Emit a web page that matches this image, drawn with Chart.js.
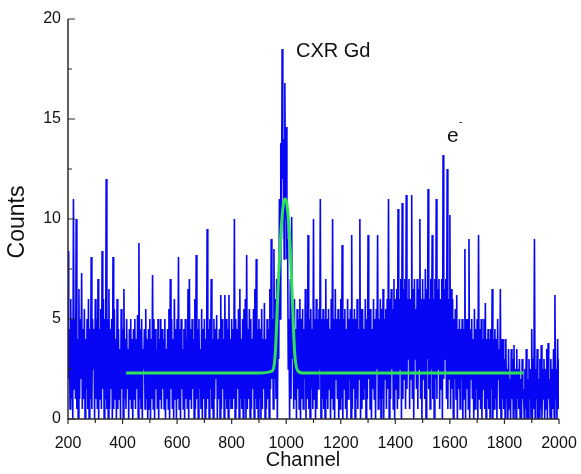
<!DOCTYPE html>
<html lang="en">
<head>
    <meta charset="UTF-8">
    <title>CXR Gd spectrum</title>
    <script src="https://cdn.jsdelivr.net/npm/chart.js"></script>
    <style>
        * {
            box-sizing: border-box;
            margin: 0;
            padding: 0;
        }
        body {
            background: #ffffff;
            width: 581px;
            height: 474px;
            overflow: hidden;
        }
    </style>
</head>
<body>
    <canvas id="spectrum" width="581" height="474"></canvas>

    <script>
        // channel axis: first channel and width of each bin below
        const CH_START = 200;
        const CH_STEP = 5;

        // top of the blue trace in each 5-channel bin, rows of 50 channels
        const binMax = [
            8.4, 4.5, 6, 5, 11, 5, 10, 4, 6.5, 5,            // 200
            7.3, 4.5, 5.5, 4, 5, 6, 4.5, 8.1, 5, 4.5,        // 250
            6, 5, 7, 4.5, 5.5, 8.4, 6, 5, 12, 5,             // 300
            6.5, 4.5, 5, 8.1, 5.5, 4, 6, 4.5, 3.5, 5.5,      // 350
            4.5, 6.5, 4, 5, 3.5, 4.5, 5, 4, 4.5, 5,          // 400
            4, 5.2, 8.8, 4.5, 5, 3.5, 4.5, 5.5, 4, 4.5,      // 450
            5, 4, 7.2, 5, 4.5, 3.5, 5, 4, 5, 4.5,            // 500
            4, 5, 3.5, 4.5, 5.5, 7, 5, 4, 6, 4.5,            // 550
            5, 8.1, 4.5, 5, 3.5, 4.5, 5, 4, 6.5, 7,          // 600
            4.5, 5, 4, 6, 8.2, 4.5, 5, 3.5, 5.5, 4.5,        // 650
            5, 4, 9.5, 4.5, 5, 7, 4, 5, 4.5, 5.2,            // 700
            4, 4.5, 6.2, 5, 4, 6.2, 5, 4.5, 6.2, 4,          // 750
            5, 4.5, 10, 5, 4.5, 5.5, 6.5, 4, 5, 5.5,         // 800
            6, 8.2, 4.5, 5.5, 5, 4, 5.5, 6.5, 8, 4.5,        // 850
            5, 4.5, 5.5, 4, 5.8, 4, 5, 4.5, 6.5, 9,          // 900
            5, 8.5, 6, 7, 4.5, 11, 13.8, 18.5, 14, 16.8,     // 950
            14.6, 9, 5, 7, 10.1, 5.5, 6, 4.5, 5.5, 5,        // 1000
            6, 5, 5.5, 4.5, 6.5, 5, 9.2, 5, 5.5, 4.5,        // 1050
            10, 5, 6, 5, 5.5, 11, 5, 5.5, 5, 7,              // 1100
            5, 5.5, 4.5, 6, 10, 5, 6.5, 5, 5.5, 5,           // 1150
            6, 8.7, 5, 5.5, 4.5, 6, 5, 5.5, 9.2, 5,          // 1200
            5.5, 5, 6, 4.5, 10, 5.5, 5.5, 4.5, 6, 5,         // 1250
            9.2, 5.5, 5.5, 4.5, 6, 5, 5.5, 9.2, 5, 6,        // 1300
            5.5, 6.5, 5, 5.5, 6, 11, 6, 6.5, 5.5, 7,         // 1350
            6, 6.5, 10.5, 6, 7, 10.8, 6.5, 7, 11.2, 6,       // 1400
            7, 6, 11.2, 6.5, 7, 5.5, 7, 6.5, 10, 6,          // 1450
            7, 6, 7.5, 6.5, 11.5, 6, 7, 9.2, 6, 7,           // 1500
            11, 6.5, 7, 6, 7, 13.2, 6.5, 7, 12.5, 6,         // 1550
            10.2, 6.5, 6, 5, 5.5, 6.2, 4.5, 5, 4.5, 5,       // 1600
            4.5, 8.5, 5, 5, 9, 4.5, 5, 4, 5.5, 4.5,          // 1650
            5, 9.2, 4.5, 5, 4, 5, 5.8, 4, 4.5, 4,            // 1700
            4.5, 6.5, 4, 4.5, 4, 5, 3.5, 6.5, 4, 4,          // 1750
            3, 4, 2.5, 3.5, 2, 3.5, 3, 3.7, 2.5, 3.5,        // 1800
            2.5, 3, 2, 3, 1.5, 2.5, 3.5, 2, 3, 2.5,          // 1850
            4.5, 3, 9, 2.5, 3.5, 2, 3, 3.7, 2.5, 3,          // 1900
            2.5, 3.5, 3.8, 2, 3, 2.5, 3.5, 6.2, 2.5, 4,      // 1950
            3                                                // 2000
        ];

        // bottom of the blue trace in each 5-channel bin
        const binMin = [
            2, 0.5, 1, 0, 1.5, 1, 0.5, 0, 1, 2,              // 200
            0.5, 1, 0, 1.5, 0.5, 0, 1, 0.5, 2.5, 0,          // 250
            1, 0.5, 0, 1, 0.5, 1.5, 0, 1, 0.5, 0,            // 300
            0.5, 1.5, 0, 0.5, 1, 0, 0.5, 1, 0, 1.5,          // 350
            0, 1, 0.5, 1.5, 0, 1, 0.5, 0, 1, 0.5,            // 400
            1.5, 0, 1, 0.5, 0, 2.5, 0.5, 1, 0, 0.5,          // 450
            0, 1, 0.5, 0, 1.5, 0.5, 0, 1, 0.5, 1.5,          // 500
            0.5, 0, 1, 0.5, 0, 1.5, 0.5, 0, 1, 0,            // 550
            1, 0.5, 0, 1.5, 0.5, 0, 1, 0.5, 0, 1,            // 600
            0.5, 1.5, 0, 0.5, 1, 0, 1.5, 0.5, 0, 1,          // 650
            0, 0.5, 1, 0, 1.5, 0.5, 0, 1, 2, 0,              // 700
            1, 0, 0.5, 1.5, 0, 1, 0.5, 0, 1, 0.5,            // 750
            0.5, 1, 0, 0.5, 1.5, 0, 1, 0.5, 0, 1,            // 800
            0, 0.5, 1, 0, 0.5, 1.5, 0, 1, 0.5, 0,            // 850
            1, 0, 0.5, 1.5, 0, 0.5, 1, 0, 1.5, 2,            // 900
            0.5, 2, 1, 0, 3, 5, 9, 12, 8, 10,                // 950
            8, 2.5, 0, 1, 3, 0.5, 1, 0, 1.5, 0.5,            // 1000
            0, 1, 0.5, 2, 0, 1, 0.5, 0, 1.5, 0.5,            // 1050
            1, 0, 0.5, 1.5, 2.5, 0, 1, 0.5, 0, 1,            // 1100
            0.5, 1.5, 0, 1, 0.5, 0, 2, 1, 0, 0.5,            // 1150
            1, 0, 1.5, 0.5, 0, 1, 2, 0, 0.5, 1.5,            // 1200
            0, 1, 0.5, 2, 0, 0.5, 1, 1.5, 0, 1,              // 1250
            2, 0.5, 0, 1.5, 1, 0, 2.5, 0.5, 1, 0,            // 1300
            1, 0, 2, 0.5, 1.5, 0, 1, 2.5, 0.5, 0,            // 1350
            1.5, 0.5, 1, 2.5, 0, 1, 2, 0.5, 1.5, 3,          // 1400
            0.5, 2, 1, 0, 3, 1.5, 0.5, 2.5, 1, 0,            // 1450
            2, 1, 0, 3, 1.5, 0.5, 2.5, 1, 0, 2,              // 1500
            1, 2.5, 0.5, 1.5, 0, 2, 3, 1, 0.5, 2,            // 1550
            0.5, 1.5, 0, 2, 1, 0, 1.5, 0.5, 2, 0,            // 1600
            1, 0, 1.5, 0.5, 0, 2, 1, 0, 0.5, 1.5,            // 1650
            0, 1, 0.5, 0, 1.5, 0.5, 0, 1, 0.5, 0,            // 1700
            1.5, 0, 0.5, 1, 0, 2, 0.5, 0, 1, 0.5,            // 1750
            0, 1, 0, 0.5, 0, 1, 0, 0.5, 0, 1,                // 1800
            0.5, 0, 0, 1, 0, 0.5, 0, 0, 1, 0,                // 1850
            0, 0.5, 0, 1, 0, 0, 0.5, 0, 1, 0,                // 1900
            0.5, 0, 1, 0, 0, 0.5, 0, 1, 0, 0.5,              // 1950
            0                                                // 2000
        ];

        // gaussian fit (green)
        const fitChannels = [413, 900, 948, 960, 970, 980, 990, 996, 1002, 1012, 1021, 1031, 1043, 1060, 1870];
        const fitCounts   = [2.3, 2.3, 2.4, 3.3, 6.5, 9.2, 10.8, 11, 10.8, 9.2, 6.5, 3.3, 2.4, 2.3, 2.3];

        // axis ticks
        const xMajor = [200, 400, 600, 800, 1000, 1200, 1400, 1600, 1800, 2000];
        const xMinor = [300, 500, 700, 900, 1100, 1300, 1500, 1700, 1900];
        const yMajor = [0, 5, 10, 15, 20];
        const yMinor = [2.5, 7.5, 12.5, 17.5];

        const FONT = 'Arial, "Liberation Sans", sans-serif';
        const AXIS_COLOR = '#2b2b2b';

        // trace goes top -> bottom -> top through every bin
        const spectrumPoints = [];
        binMax.forEach((hi, i) => {
            const ch = CH_START + i * CH_STEP;
            spectrumPoints.push({ x: ch, y: hi });
            spectrumPoints.push({ x: ch + CH_STEP / 2, y: binMin[i] });
        });
        const fitPoints = fitChannels.map((ch, i) => ({ x: ch, y: fitCounts[i] }));

        // axes, ticks and the free text labels
        const decorations = {
            id: 'decorations',
            afterDatasetsDraw(chart) {
                const ctx = chart.ctx;
                const xs = chart.scales.x;
                const ys = chart.scales.y;
                const area = chart.chartArea;
                ctx.save();
                ctx.strokeStyle = AXIS_COLOR;
                ctx.lineWidth = 1.5;
                ctx.beginPath();
                ctx.moveTo(area.left, area.top);
                ctx.lineTo(area.left, area.bottom);
                ctx.lineTo(area.right, area.bottom);
                ctx.stroke();

                ctx.lineWidth = 1.2;
                ctx.beginPath();
                xMajor.forEach(v => {
                    const px = xs.getPixelForValue(v);
                    ctx.moveTo(px, area.bottom);
                    ctx.lineTo(px, area.bottom + 5);
                });
                xMinor.forEach(v => {
                    const px = xs.getPixelForValue(v);
                    ctx.moveTo(px, area.bottom);
                    ctx.lineTo(px, area.bottom + 4);
                });
                yMajor.forEach(v => {
                    const py = ys.getPixelForValue(v);
                    ctx.moveTo(area.left, py);
                    ctx.lineTo(area.left + 7, py);
                });
                yMinor.forEach(v => {
                    const py = ys.getPixelForValue(v);
                    ctx.moveTo(area.left, py);
                    ctx.lineTo(area.left + 4, py);
                });
                ctx.stroke();
                ctx.restore();
            },
            afterDraw(chart) {
                const ctx = chart.ctx;
                ctx.save();
                ctx.fillStyle = '#111111';

                ctx.font = '20px ' + FONT;
                ctx.textAlign = 'left';
                ctx.textBaseline = 'alphabetic';
                ctx.fillText('CXR Gd', 296, 57);

                ctx.font = '21px ' + FONT;
                ctx.fillText('e', 447, 142);
                ctx.font = '10px ' + FONT;
                ctx.fillText('-', 459, 125);

                ctx.font = '20px ' + FONT;
                ctx.textAlign = 'center';
                ctx.textBaseline = 'middle';
                ctx.fillText('Channel', 303, 460);

                ctx.font = '23px ' + FONT;
                ctx.translate(18, 222);
                ctx.rotate(-Math.PI / 2);
                ctx.fillText('Counts', 0, 0);
                ctx.restore();
            }
        };

        new Chart(document.getElementById('spectrum'), {
            type: 'line',
            data: {
                datasets: [
                    {
                        label: 'Fit',
                        data: fitPoints,
                        borderColor: '#30df58',
                        borderWidth: 3,
                        pointRadius: 0,
                        cubicInterpolationMode: 'monotone',
                        fill: false
                    },
                    {
                        label: 'Counts',
                        data: spectrumPoints,
                        borderColor: '#0606f5',
                        borderWidth: 1.6,
                        pointRadius: 0,
                        tension: 0,
                        fill: false
                    }
                ]
            },
            options: {
                responsive: false,
                animation: false,
                devicePixelRatio: 1,
                layout: { padding: { top: 19, right: 22, left: 0, bottom: 0 } },
                plugins: {
                    legend: { display: false },
                    tooltip: { enabled: false }
                },
                scales: {
                    x: {
                        type: 'linear',
                        min: 200,
                        max: 2000,
                        grid: { display: false, drawTicks: false },
                        border: { display: false },
                        ticks: {
                            stepSize: 200,
                            padding: 15,
                            maxRotation: 0,
                            color: '#111111',
                            font: { family: FONT, size: 16 },
                            callback: v => String(v)
                        },
                        afterFit: scale => {
                            scale.height = 55;
                            scale.paddingLeft = 0;
                            scale.paddingRight = 0;
                        }
                    },
                    y: {
                        min: 0,
                        max: 20,
                        grid: { display: false, drawTicks: false },
                        border: { display: false },
                        ticks: {
                            stepSize: 5,
                            padding: 7,
                            color: '#111111',
                            font: { family: FONT, size: 16 }
                        },
                        afterFit: scale => {
                            scale.width = 68;
                            scale.paddingTop = 0;
                            scale.paddingBottom = 0;
                        }
                    }
                }
            },
            plugins: [decorations]
        });
    </script>
</body>
</html>
